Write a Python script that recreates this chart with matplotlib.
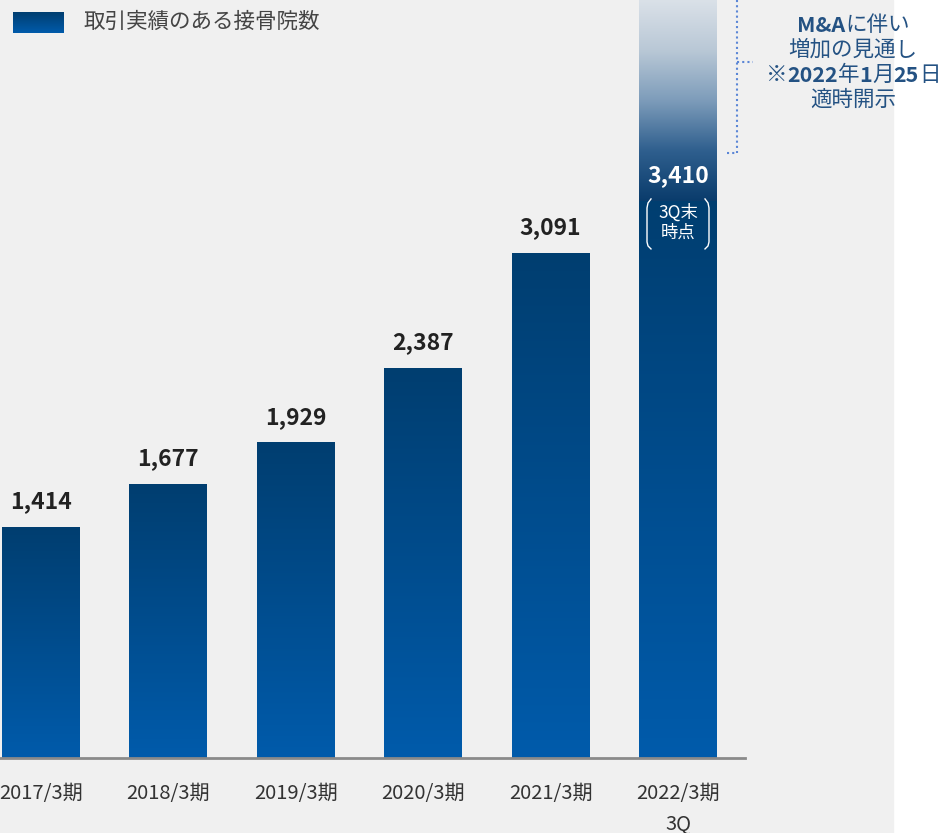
import numpy as np
import matplotlib.pyplot as plt
from matplotlib.colors import LinearSegmentedColormap
from matplotlib.patches import Rectangle
from matplotlib.lines import Line2D

plt.rcParams['font.family'] = ['Noto Sans CJK JP', 'DejaVu Sans']

# data
periods = ['2017/3期', '2018/3期', '2019/3期', '2020/3期', '2021/3期', '2022/3期']
clinics = [1414, 1677, 1929, 2387, 3091, 3410]
legend_label = '取引実績のある接骨院数'
note_lines = [
    [('M&A', True), ('に伴い', False)],
    [('増加の見通し', False)],
    [('※', False), ('2022', True), ('年', False), ('1', True), ('月', False), ('25', True), ('日', False)],
    [('適時開示', False)],
]

W, H = 943, 833
fig = plt.figure(figsize=(W / 100, H / 100), dpi=100)
fig.patch.set_facecolor('white')
fig.patches.append(Rectangle((0, 0), 893 / W, 1, transform=fig.transFigure,
                             color='#f0f0f0', zorder=-10))


def px(x, y):
    return x / W, 1 - y / H


bar_cmap = LinearSegmentedColormap.from_list('bar', ['#005bab', '#003e70'])
proj_cmap = LinearSegmentedColormap.from_list(
    'proj', ['#0a3c6c', '#2f5f8e', '#7d9cba', '#b9c8d6', '#dae1e8'])
grad = np.linspace(0, 1, 256).reshape(-1, 1)

ax = fig.add_axes([0, 75 / H, 893 / W, 758 / H])
ax.patch.set_alpha(0)
pitch = 127.4
x0 = -41 / pitch
ax.set_xlim(x0, x0 + 893 / pitch)
ymax = 4640
ax.set_ylim(0, ymax)

x = np.arange(len(periods))
width = 0.612
bars = ax.bar(x, clinics, width=width, color='none')
for rect, v in zip(bars, clinics):
    bx = rect.get_x()
    ax.imshow(grad, cmap=bar_cmap, origin='lower', interpolation='bicubic',
              extent=(bx, bx + width, 0, v), zorder=2)

# projected increase for the last period
last = len(clinics) - 1
ax.imshow(grad, cmap=proj_cmap, origin='lower', interpolation='bicubic',
          extent=(x[last] - width / 2, x[last] + width / 2, clinics[last], ymax), zorder=2)
ax.set_aspect('auto')

for i, v in enumerate(clinics):
    col = 'white' if i == last else '#222222'
    ax.annotate(f'{v:,}', (x[i], v), xytext=(0, 18), textcoords='offset points',
                ha='center', va='center', fontsize=16.5, fontweight='bold', color=col, zorder=5)

# 3Q note inside the last bar
ax.annotate('3Q末\n時点', (x[last], clinics[last]), xytext=(0, -15.5), textcoords='offset points',
            ha='center', va='center', fontsize=12.5, color='white', linespacing=1.1, zorder=5)
cx_px, top_px = ax.transData.transform((x[last], clinics[last]))
top_px = H - top_px
for side in (-1, 1):
    xs = [cx_px + side * 27, cx_px + side * 30, cx_px + side * 31, cx_px + side * 31,
          cx_px + side * 30, cx_px + side * 27]
    ys = [top_px - 2, top_px + 2, top_px + 7, top_px + 41, top_px + 45, top_px + 48]
    fig.add_artist(Line2D([a / W for a in xs], [1 - b / H for b in ys], color='white', lw=1))

# baseline
ax.plot([x0, (745 - 41) / pitch], [0, 0], color='#8a8a8a', lw=2, clip_on=False, zorder=3)

for s in ax.spines.values():
    s.set_visible(False)
ax.set_yticks([])
ax.set_xticks(x)
ax.set_xticklabels(periods[:-1] + [periods[-1] + '\n3Q'], fontsize=14.5, color='#333333')
for t in ax.get_xticklabels():
    t.set_linespacing(1.6)
ax.tick_params(axis='x', length=0, pad=18)

# dotted bracket
dot = dict(color='#5b86d6', lw=1.5, linestyle=(0, (1, 1.5)))
fig.add_artist(Line2D(*zip(px(737, 0), px(737, 153)), **dot))
fig.add_artist(Line2D(*zip(px(727, 153), px(737, 153)), **dot))
fig.add_artist(Line2D(*zip(px(737, 62), px(753, 62)), **dot))

# note text with mixed weights
fig.canvas.draw()
r = fig.canvas.get_renderer()
note_color = '#245283'
for k, parts in enumerate(note_lines):
    y = 25 + 25 * k
    texts, widths = [], []
    for s, b in parts:
        t = fig.text(0, 0, s, fontsize=15.5, fontweight='bold' if b else 'normal',
                     color=note_color, ha='left', va='center')
        texts.append(t)
        widths.append(t.get_window_extent(r).width)
    xx = 853 - sum(widths) / 2
    for t, w in zip(texts, widths):
        t.set_position(px(xx, y))
        xx += w

# legend
lax = fig.add_axes([13 / W, 1 - 33 / H, 51 / W, 21 / H])
lax.imshow(grad, cmap=bar_cmap, origin='lower', aspect='auto')
lax.axis('off')
fig.text(*px(83, 22), legend_label, fontsize=15.5, color='#444444', ha='left', va='center')

fig.savefig('out.png', dpi=100)
